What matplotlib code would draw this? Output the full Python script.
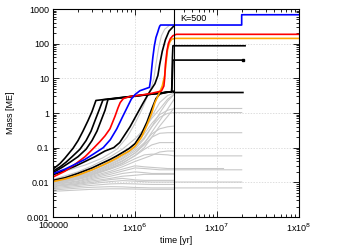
import matplotlib
matplotlib.use("Agg")
import matplotlib.pyplot as plt
from matplotlib.ticker import FixedLocator, LogLocator, NullFormatter

plt.rcParams['font.family'] = ['Liberation Sans', 'DejaVu Sans']
plt.rcParams['font.size'] = 6.5

# coloured tracks
blue_t = [1e5, 1.4e5, 1.85e5, 2.46e5, 3.1e5, 4.1e5, 5e5, 6e5, 7e5, 8.2e5, 9e5, 1.0e6, 1.15e6, 1.5e6,
          1.55e6, 1.6e6, 1.65e6, 1.72e6, 1.8e6, 1.9e6, 1.95e6, 2.0e6, 2.05e6, 2e7, 2e7, 1e8]
blue_m = [0.0178, 0.024, 0.033, 0.046, 0.065, 0.1, 0.17, 0.35, 0.75, 1.6, 2.5, 3.4, 4.4, 5.5,
          9, 20, 40, 85, 150, 220, 270, 320, 345, 345, 683, 683]

red_t = [1e5, 1.4e5, 1.85e5, 2.46e5, 3.1e5, 3.74e5, 4.31e5, 4.95e5, 5.7e5, 6.2e5, 6.6e5, 7.2e5, 8.7e5,
         1.2e6, 1.6e6, 2.1e6, 2.25e6, 2.3e6, 2.35e6, 2.45e6, 2.55e6, 2.7e6, 2.9e6, 3.2e6, 1e8]
red_m = [0.0142, 0.021, 0.033, 0.055, 0.095, 0.15, 0.22, 0.35, 0.8, 1.4, 2.0, 2.6, 3.0,
         3.3, 3.7, 4.3, 6, 10, 25, 60, 100, 140, 170, 186, 186]

orange_t = [1e5, 1.4e5, 2e5, 3e5, 4e5, 5e5, 6e5, 7e5, 8.5e5, 1e6, 1.2e6, 1.4e6, 1.6e6, 1.75e6, 1.95e6,
            2.15e6, 2.3e6, 2.4e6, 2.5e6, 2.65e6, 2.8e6, 3.1e6, 1e8]
orange_m = [0.0105, 0.0125, 0.016, 0.023, 0.031, 0.04, 0.05, 0.062, 0.08, 0.11, 0.2, 0.45, 1.0, 2.0, 3.5,
            6, 12, 30, 70, 110, 135, 142, 142]

# black tracks
black_a_t = [1e5, 1.22e5, 1.4e5, 1.61e5, 1.75e5, 2.02e5, 2.32e5, 2.67e5, 2.99e5, 3.34e5, 3e6, 3e6, 2.07e7]
black_a_m = [0.024, 0.035, 0.05, 0.075, 0.095, 0.16, 0.3, 0.6, 1.1, 2.3, 4.2, 3.9, 3.9]

black_b_t = [1e5, 1.22e5, 1.44e5, 1.71e5, 2.13e5, 2.53e5, 2.91e5, 3.25e5, 3.64e5, 4.07e5,
             2.8e6, 2.85e6, 2.9e6, 2.05e7]
black_b_m = [0.021, 0.028, 0.038, 0.055, 0.09, 0.16, 0.3, 0.6, 1.2, 2.4,
             4.1, 10, 33.6, 33.6]

black_c_t = [1e5, 1.29e5, 1.61e5, 2.02e5, 2.53e5, 2.99e5, 3.44e5, 3.85e5, 4.31e5, 4.68e5,
             2.8e6, 2.83e6, 2.86e6, 2.9e6, 2.2e7]
black_c_m = [0.019, 0.027, 0.038, 0.055, 0.09, 0.16, 0.3, 0.6, 1.2, 2.45,
             4.1, 10, 40, 87, 87]

black_d_t = [1e5, 1.4e5, 1.85e5, 2.46e5, 3.25e5, 4.3e5, 5.5e5, 6.5e5, 8.7e5, 1.05e6, 1.25e6, 1.45e6, 1.55e6,
             1.75e6, 1.9e6, 2.0e6, 2.15e6, 2.35e6, 2.6e6, 3e6]
black_d_m = [0.0165, 0.022, 0.029, 0.04, 0.055, 0.08, 0.1, 0.14, 0.4, 0.9, 1.9, 3.5, 4.5,
             7, 12, 25, 60, 130, 230, 330]

black_e_t = [1e5, 1.4e5, 2e5, 3e5, 4e5, 5e5, 6e5, 7e5, 8.5e5, 1e6, 1.2e6, 1.4e6, 1.6e6, 1.8e6, 2.0e6, 2.4e6, 3e6]
black_e_m = [0.0114, 0.0135, 0.018, 0.026, 0.036, 0.046, 0.058, 0.072, 0.095, 0.13, 0.25, 0.55, 1.3, 2.6, 3.5, 4.0, 4.2]

gray_hi_t = [1e5, 1.5e5, 2.5e5, 4e5, 6e5, 8e5, 1e6, 1.2e6, 1.4e6, 1.6e6, 1.7e6, 1.8e6, 1.95e6, 2.1e6, 2.3e6, 2.6e6]
gray_hi_m = [0.017, 0.022, 0.032, 0.05, 0.09, 0.2, 0.5, 1.2, 2.8, 6, 10, 25, 80, 170, 260, 330]

# grey tracks on a common time grid; final mass kept until end time (None = track stops)
gray_t = [1e5, 2e5, 3e5, 5e5, 7e5, 1e6, 1.3e6, 1.6e6, 2e6, 2.5e6, 3e6]
gray_m = [
    [0.012, 0.02, 0.03, 0.055, 0.09, 0.18, 0.35, 0.7, 1.3, 2.5, 3.5],
    [0.0115, 0.018, 0.026, 0.045, 0.07, 0.13, 0.25, 0.5, 0.9, 1.2, 1.35],
    [0.011, 0.016, 0.022, 0.037, 0.055, 0.1, 0.2, 0.4, 0.75, 0.98, 1.03],
    [0.0105, 0.015, 0.02, 0.032, 0.047, 0.08, 0.14, 0.25, 0.35, 0.4, 0.42],
    [0.01, 0.014, 0.019, 0.03, 0.042, 0.07, 0.12, 0.2, 0.26, 0.27, 0.27],
    [0.0098, 0.013, 0.017, 0.026, 0.036, 0.058, 0.09, 0.12, 0.14, 0.14, 0.14],
    [0.0095, 0.0125, 0.016, 0.024, 0.032, 0.048, 0.062, 0.065, 0.064, 0.062, 0.058],
    [0.009, 0.012, 0.015, 0.021, 0.028, 0.04, 0.05, 0.06, 0.075, 0.08, 0.08],
    [0.0088, 0.011, 0.014, 0.019, 0.024, 0.03, 0.028, 0.027, 0.026, 0.025, 0.025],
    [0.0085, 0.0105, 0.013, 0.017, 0.021, 0.026, 0.025, 0.024, 0.023, 0.023, 0.023],
    [0.008, 0.0098, 0.012, 0.015, 0.018, 0.02, 0.019, 0.018, 0.018, 0.018, 0.018],
    [0.0078, 0.0092, 0.011, 0.013, 0.015, 0.016, 0.017, 0.017, 0.017, 0.017, 0.017],
    [0.0075, 0.0088, 0.01, 0.012, 0.013, 0.0118, 0.0114, 0.0114, 0.0114, 0.0114, 0.0114],
    [0.007, 0.0082, 0.0092, 0.0105, 0.0112, 0.0108, 0.0104, 0.0102, 0.0102, 0.0102, 0.0102],
    [0.0065, 0.0075, 0.0082, 0.009, 0.0092, 0.009, 0.0088, 0.0087, 0.0087, 0.0087, 0.0087],
    [0.006, 0.0068, 0.0072, 0.0075, 0.0074, 0.0071, 0.007, 0.0069, 0.0069, 0.0069, 0.0069],
    [0.0055, 0.006, 0.0063, 0.0065, 0.0065, 0.0064, 0.0063, 0.0063, 0.0063, 0.0063, 0.0063],
    [0.011, 0.017, 0.023, 0.04, 0.065, 0.13, 0.3, 0.8, 2.0, 3.2, 3.8],
    [0.0105, 0.015, 0.02, 0.034, 0.05, 0.09, 0.18, 0.4, 1.0, 2.2, 3.4],
    [0.01, 0.014, 0.018, 0.028, 0.04, 0.07, 0.13, 0.28, 0.6, 1.3, 2.5],
    [0.0095, 0.013, 0.017, 0.025, 0.035, 0.06, 0.1, 0.2, 0.42, 0.8, 1.4],
]
gray_end = [None, 2e7, 2e7, None, 2e7, None, 2e7, None, 1.2e7, 2e7, None,
            None, None, 2e7, None, 2e7, None, None, None, None, None]

ytick_vals = [0.001, 0.01, 0.1, 1, 10, 100, 1000]
ytick_labels = ["0.001", "0.01", "0.1", "1", "10", "100", "1000"]
xtick_vals = [1e5, 1e6, 1e7, 1e8]
xtick_labels = ["100000", r"1x10$^6$", r"1x10$^7$", r"1x10$^8$"]
t_cut = 3e6

fig = plt.figure(figsize=(3.5, 2.45), dpi=100)
ax = fig.add_axes([53 / 350, 1 - 217 / 245, 246 / 350, 208 / 245])

for m, end in zip(gray_m, gray_end):
    t = list(gray_t)
    mm = list(m)
    if end is not None:
        t.append(end)
        mm.append(m[-1])
    ax.plot(t, mm, color="#c8c8c8", lw=0.8)
ax.plot(gray_hi_t, gray_hi_m, color="#c8c8c8", lw=0.8)

for t, m in [(black_e_t, black_e_m), (black_d_t, black_d_m), (black_c_t, black_c_m),
             (black_b_t, black_b_m), (black_a_t, black_a_m)]:
    ax.plot(t, m, color="black", lw=1.2)
ax.plot(black_b_t[-1], black_b_m[-1], 's', color="black", ms=1.5)

ax.plot(orange_t, orange_m, color="#ffa500", lw=1.2)
ax.plot(red_t, red_m, color="red", lw=1.2)
ax.plot(blue_t, blue_m, color="blue", lw=1.2)

ax.axvline(t_cut, color="black", lw=0.8)
ax.text(3.6e6, 520, "K=500", fontsize=6.5, va="center", ha="left")

ax.set_xscale("log")
ax.set_yscale("log")
ax.set_xlim(1e5, 1e8)
ax.set_ylim(0.001, 1000)
ax.xaxis.set_major_locator(FixedLocator(xtick_vals))
ax.set_xticklabels(xtick_labels)
ax.yaxis.set_major_locator(FixedLocator(ytick_vals))
ax.set_yticklabels(ytick_labels)
ax.xaxis.set_minor_locator(LogLocator(base=10, subs=range(2, 10)))
ax.yaxis.set_minor_locator(LogLocator(base=10, subs=range(2, 10)))
ax.xaxis.set_minor_formatter(NullFormatter())
ax.yaxis.set_minor_formatter(NullFormatter())
ax.tick_params(which="both", direction="in", top=True, right=True, width=0.6)
ax.tick_params(which="major", length=4, pad=3)
ax.tick_params(which="minor", length=2)
ax.grid(True, which="major", color="#d0d0d0", ls=(0, (2, 2)), lw=0.5)
for s in ax.spines.values():
    s.set_linewidth(0.8)

ax.set_xlabel("time [yr]", labelpad=2)
ax.set_ylabel("Mass [ME]", labelpad=8)

fig.savefig("out.png", dpi=100)
